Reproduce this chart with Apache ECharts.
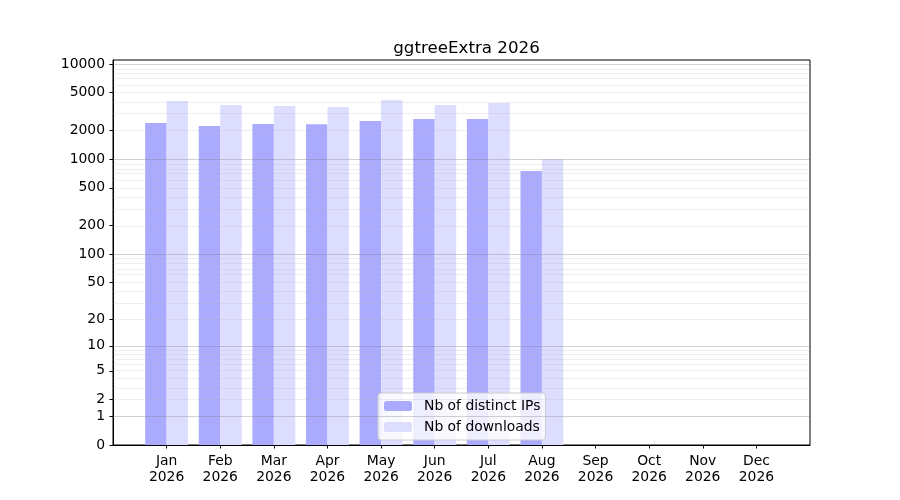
<!DOCTYPE html>
<html>
<head>
<meta charset="utf-8">
<script src="https://cdn.jsdelivr.net/npm/echarts@6/dist/echarts.min.js"></script>
<style>
  html, body { margin: 0; padding: 0; background: #fff; }
  #chart { width: 900px; height: 500px; }
</style>
</head>
<body>
<div id="chart"></div>
<script>
// data
var months = ['Jan', 'Feb', 'Mar', 'Apr', 'May', 'Jun', 'Jul', 'Aug', 'Sep', 'Oct', 'Nov', 'Dec'];
var year = '2026';
var distinctIPs = [2400, 2230, 2345, 2330, 2520, 2650, 2650, 752];
var downloads = [4090, 3710, 3620, 3540, 4190, 3710, 3900, 1000];
var yTicks = [0, 1, 2, 5, 10, 20, 50, 100, 200, 500, 1000, 2000, 5000, 10000];
var majorGrid = [1, 10, 100, 1000, 10000];

// y scale is log10(1 + v)
function tr(v) { return Math.log10(1 + v); }

var minorGrid = [];
majorGrid.slice(0, 4).forEach(function (d) {
  for (var k = 2; k <= 9; k++) minorGrid.push(d * k);
});

var font = 'DejaVu Sans';
var chart = echarts.init(document.getElementById('chart'));

var gridLines = [];
minorGrid.forEach(function (v) {
  gridLines.push({ yAxis: tr(v), lineStyle: { color: 'rgba(176,176,176,0.28)', width: 0.8, type: 'solid' } });
});
majorGrid.forEach(function (v) {
  gridLines.push({ yAxis: tr(v), lineStyle: { color: 'rgba(128,128,128,0.45)', width: 0.8, type: 'solid' } });
});

var monthIdx = months.map(function (m, i) { return i; });

var option = {
  animation: false,
  title: {
    text: 'ggtreeExtra ' + year,
    left: 461.5,
    top: 35,
    textAlign: 'center',
    textStyle: { fontFamily: font, fontSize: 16.7, fontWeight: 'normal', color: '#000' }
  },
  legend: {
    orient: 'vertical',
    left: 378,
    top: 393,
    padding: [5, 5, 5, 6],
    itemWidth: 28,
    itemHeight: 10,
    itemGap: 5,
    backgroundColor: 'rgba(255,255,255,0.8)',
    borderColor: '#cccccc',
    borderWidth: 1,
    borderRadius: 3,
    textStyle: { fontFamily: font, fontSize: 13.9, color: '#000', lineHeight: 16, padding: [0, 0, 0, 7] },
    data: ['Nb of distinct IPs', 'Nb of downloads']
  },
  grid: {
    left: 113, right: 90, top: 60, bottom: 55,
    show: true, borderColor: '#000', borderWidth: 1,
    containLabel: false
  },
  xAxis: {
    type: 'value',
    min: -1,
    max: 12,
    interval: 1,
    axisLine: { show: true, onZero: false, lineStyle: { color: '#000', width: 1 } },
    axisTick: { show: true, length: 3.5, lineStyle: { color: '#000' }, customValues: monthIdx },
    axisLabel: {
      customValues: monthIdx,
      margin: 9,
      fontFamily: font, fontSize: 13.9, color: '#000', lineHeight: 15.5,
      formatter: function (v) { return months[v] + '\n' + year; }
    },
    splitLine: { show: false }
  },
  yAxis: {
    type: 'value',
    min: 0,
    max: 4.042,
    axisLine: { show: true, onZero: false, lineStyle: { color: '#000', width: 1 } },
    axisTick: { show: true, length: 3.5, lineStyle: { color: '#000' }, customValues: yTicks.map(tr) },
    axisLabel: {
      customValues: yTicks.map(tr),
      margin: 8,
      fontFamily: font, fontSize: 13.9, color: '#000',
      formatter: function (v) { return String(Math.round(Math.pow(10, v) - 1)); }
    },
    splitLine: { show: false }
  },
  series: [
    {
      name: 'Nb of distinct IPs',
      type: 'bar',
      barWidth: '40%',
      barGap: '0%',
      itemStyle: { color: '#aaaaff' },
      data: distinctIPs.map(function (v, i) { return [i, tr(v)]; }),
      markLine: {
        silent: true,
        symbol: ['none', 'none'],
        label: { show: false },
        data: gridLines
      }
    },
    {
      name: 'Nb of downloads',
      type: 'bar',
      barWidth: '40%',
      barGap: '0%',
      itemStyle: { color: '#ddddff' },
      data: downloads.map(function (v, i) { return [i, tr(v)]; })
    }
  ]
};
chart.setOption(option);
</script>
</body>
</html>
